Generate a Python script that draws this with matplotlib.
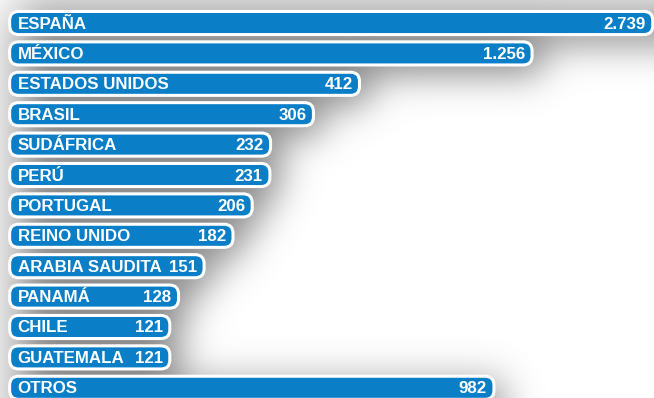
import numpy as np
import matplotlib
matplotlib.use("Agg")
import matplotlib.pyplot as plt
from matplotlib.patches import FancyBboxPatch
from matplotlib.transforms import IdentityTransform

paises = ["ESPAÑA", "MÉXICO", "ESTADOS UNIDOS", "BRASIL", "SUDÁFRICA", "PERÚ",
          "PORTUGAL", "REINO UNIDO", "ARABIA SAUDITA", "PANAMÁ", "CHILE",
          "GUATEMALA", "OTROS"]
valores = [2739, 1256, 412, 306, 232, 231, 206, 182, 151, 128, 121, 121, 982]
etiquetas = ["2.739", "1.256", "412", "306", "232", "231", "206", "182", "151",
             "128", "121", "121", "982"]

AZUL = "#0a7fc7"
W, H, DPI = 654, 398, 100

fig = plt.figure(figsize=(W / DPI, H / DPI), dpi=DPI)
fig.patch.set_facecolor("white")
ax = fig.add_axes([0, 0, 1, 1])
ax.set_xscale("log")
ax.set_xlim(40.4, 2761)
ax.set_ylim(12.336, -0.757)
ax.axis("off")

inicio = 43
y = np.arange(len(paises))
barras = ax.barh(y, np.array(valores) - inicio, left=inicio, height=0.76)

# rectangulos en pixeles a partir de las barras
cajas = []
for b in barras:
    x0, y0 = b.get_x(), b.get_y()
    p0 = ax.transData.transform((x0, y0))
    p1 = ax.transData.transform((x0 + b.get_width(), y0 + b.get_height()))
    cajas.append((min(p0[0], p1[0]), min(p0[1], p1[1]),
                  max(p0[0], p1[0]), max(p0[1], p1[1])))
    b.remove()

# sombra difuminada detras de las barras
mask = np.zeros((H, W))
dx, dy = 10, 5
for (x0, y0, x1, y1) in cajas:
    r0 = int(round(H - y1 + dy))
    r1 = int(round(H - y0 + dy)) + 4
    c0 = int(round(x0 + dx))
    c1 = int(round(x1 + dx))
    mask[max(r0, 0):min(r1, H), max(c0, 0):min(c1, W)] = 1.0

def kernel(n, s):
    i = np.arange(n)
    k = np.exp(-0.5 * ((i[:, None] - i[None, :]) / s) ** 2)
    return k / k.sum(axis=1, keepdims=True)

blur = kernel(H, 18) @ mask @ kernel(W, 18).T
sombra = np.zeros((H, W, 4))
sombra[..., :3] = 0.42
sombra[..., 3] = np.clip(blur * 0.85, 0, 1)
fig.figimage(sombra, 0, 0, zorder=0)

for (x0, y0, x1, y1), nombre, txt in zip(cajas, paises, etiquetas):
    caja = FancyBboxPatch((x0, y0), x1 - x0, y1 - y0,
                          boxstyle="round,pad=0,rounding_size=9",
                          transform=IdentityTransform(), facecolor=AZUL,
                          edgecolor="white", linewidth=2.2, zorder=2)
    fig.add_artist(caja)
    yc = (y0 + y1) / 2 - 5.5
    fig.text(x0 + 8, yc, nombre, transform=IdentityTransform(), color="white",
             fontsize=12.2, fontweight="bold", family="Liberation Sans",
             ha="left", va="baseline", zorder=3)
    fig.text(x1 - 7, yc, txt, transform=IdentityTransform(), color="white",
             fontsize=12.2, fontweight="bold", family="Liberation Sans",
             ha="right", va="baseline", zorder=3)

fig.savefig("out.png", dpi=DPI, facecolor="white")
